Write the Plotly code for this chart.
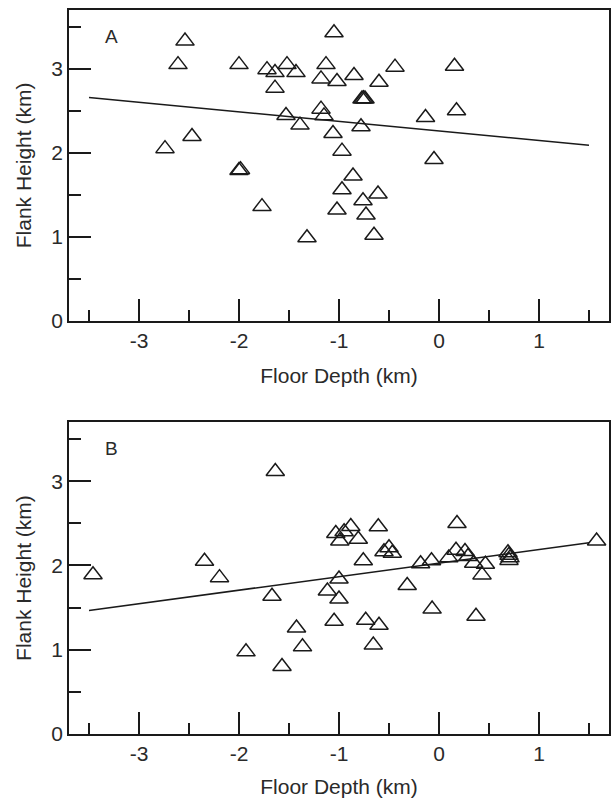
import plotly.graph_objects as go
from plotly.subplots import make_subplots

# Panel A data
A_x = [-2.54, -2.61, -2.00, -1.72, -1.64, -1.52, -1.43, -1.64, -1.13, -1.18,
       -1.53, -1.39, -1.18, -2.47, -2.74, -2.00, -1.985, -1.77, -1.32, -1.05,
       -1.02, -0.85, -0.44, -0.60, 0.155, -0.77, -0.755, -0.74, -1.15, -1.06,
       -0.78, -0.97, -0.135, 0.175, -0.05, -0.86, -0.97, -0.61, -0.76, -1.02,
       -0.73, -0.65]
A_y = [3.33, 3.05, 3.05, 2.99, 2.955, 3.05, 2.955, 2.77, 3.05, 2.88,
       2.445, 2.33, 2.52, 2.195, 2.05, 1.79, 1.80, 1.36, 0.99, 3.43,
       2.85, 2.92, 3.02, 2.84, 3.03, 2.64, 2.645, 2.64, 2.44, 2.23,
       2.31, 2.02, 2.42, 2.50, 1.92, 1.725, 1.56, 1.51, 1.43, 1.32,
       1.26, 1.02]
A_fit_x = [-3.5, 1.5]
A_fit_y = [2.66, 2.09]

# Panel B data
B_x = [-1.637, -3.46, -2.345, -2.195, -1.67, -1.425, -1.365, -1.93, -1.57,
       -1.032, -0.949, -0.882, -0.992, -0.807, -0.607, 0.18, -0.55, -0.50,
       -0.467, -0.757, -0.184, -0.075, 0.17, 0.26, 0.098, 0.29, 0.347, 0.464,
       0.43, 0.69, 0.70, 0.71, 0.70, 0.37, 1.576, -1.0, -1.116, -1.0, -0.318,
       -0.069, -1.049, -0.733, -0.60, -0.657]
B_y = [3.115, 1.89, 2.05, 1.855, 1.635, 1.258, 1.034, 0.975, 0.80,
       2.38, 2.40, 2.463, 2.29, 2.31, 2.46, 2.497, 2.163, 2.21,
       2.144, 2.055, 2.02, 2.055, 2.18, 2.165, 2.09, 2.106, 2.026, 2.015,
       1.888, 2.15, 2.12, 2.09, 2.06, 1.397, 2.29, 1.84, 1.697, 1.602, 1.762,
       1.482, 1.338, 1.349, 1.29, 1.055]
B_fit_x = [-3.5, 1.5]
B_fit_y = [1.465, 2.27]

x_ticks = [-3, -2, -1, 0, 1]
x_tick_labels = ["-3", "-2", "-1", "0", "1"]
y_ticks = [0, 1, 2, 3]
y_tick_labels = ["0", "1", "2", "3"]
panel_labels = ["A", "B"]

FONT = "Arial, Liberation Sans, Helvetica, sans-serif"
INK = "#1a1a1a"
TXT = "#2a2a2a"

fig = make_subplots(rows=2, cols=1, vertical_spacing=0.14)

for r, (xs, ys, fx, fy) in enumerate([(A_x, A_y, A_fit_x, A_fit_y),
                                      (B_x, B_y, B_fit_x, B_fit_y)], start=1):
    fig.add_trace(go.Scatter(x=fx, y=fy, mode="lines",
                             line=dict(color=INK, width=1.5),
                             showlegend=False, hoverinfo="skip"), row=r, col=1)
    fig.add_trace(go.Scatter(x=xs, y=ys, mode="markers",
                             marker=dict(symbol="triangle-up-open", size=16,
                                         color=INK, line=dict(width=1.5, color=INK)),
                             showlegend=False), row=r, col=1)

axis_common = dict(showline=True, mirror=True, linecolor=INK, linewidth=1.5,
                   showgrid=False, zeroline=False, ticks="inside", ticklen=22,
                   tickwidth=1.5, tickcolor=INK,
                   tickfont=dict(family=FONT, size=21, color=TXT))

for r in (1, 2):
    fig.update_xaxes(range=[-3.7, 1.7], tickmode="array", tickvals=x_ticks,
                     ticktext=x_tick_labels,
                     minor=dict(ticks="inside", ticklen=11, tickwidth=1.5,
                                tickcolor=INK, dtick=0.5, tick0=0),
                     title=dict(text="Floor Depth (km)",
                                font=dict(family=FONT, size=21, color=TXT),
                                standoff=17),
                     row=r, col=1, **axis_common)
    fig.update_yaxes(range=[0, 3.7], tickmode="array", tickvals=y_ticks,
                     ticktext=y_tick_labels,
                     minor=dict(ticks="inside", ticklen=12, tickwidth=1.5,
                                tickcolor=INK, dtick=0.5, tick0=0),
                     title=dict(text="Flank Height (km)",
                                font=dict(family=FONT, size=21, color=TXT),
                                standoff=14),
                     row=r, col=1, **axis_common)

fig.update_layout(
    width=612, height=798,
    margin=dict(l=69, r=1.5, t=10, b=59),
    paper_bgcolor="white", plot_bgcolor="white",
    xaxis=dict(domain=[0, 1]), xaxis2=dict(domain=[0, 1]),
    yaxis=dict(domain=[0.5706, 1.0]), yaxis2=dict(domain=[0.0, 0.4307]),
)

for lab, xr, yr in zip(panel_labels, ["x domain", "x2 domain"], ["y domain", "y2 domain"]):
    fig.add_annotation(text=lab, xref=xr, yref=yr, x=0.079, y=0.915,
                       showarrow=False, xanchor="center", yanchor="middle",
                       font=dict(family=FONT, size=19, color=TXT))

fig.write_html("out.html",
               config={"displayModeBar": False},
               post_script="document.body.style.margin='0';"
                           "document.body.style.padding='0';"
                           "document.body.style.overflow='hidden';")
